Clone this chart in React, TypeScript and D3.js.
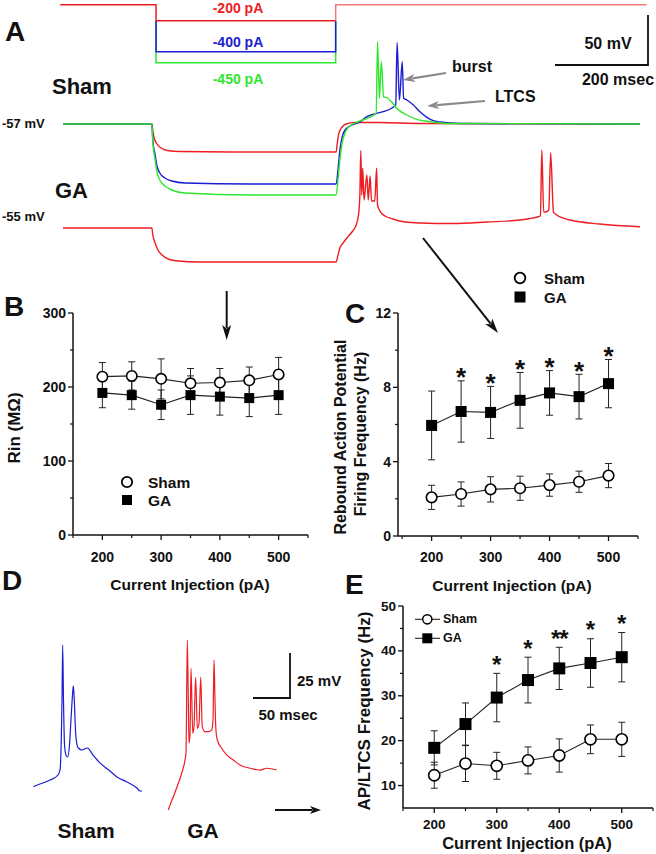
import React from "react";
import * as d3 from "d3";

const FONT = "Arial, 'Liberation Sans', Helvetica, sans-serif";
const RED = "#ee1d23";
const PINK = "#f07a7a";
const BLUE = "#1c1cd2";
const GREEN = "#2ee62e";

// ---------- Panel A: command steps (pA) ----------
const cmdLevels = [0, -200, -400, -450];
const cmdLabels = ["-200 pA", "-400 pA", "-450 pA"];
const cmdOnOff = [200, 586]; // ms

// ---------- Panel A: voltage traces [ms, mV] ----------
const shamRed: [number, number][] = [
  [0, -57], [191, -57], [193, -64], [196, -71], [202, -77], [211, -81], [224, -83.5], [251, -84.5],
  [402, -85], [587, -85], [589, -78], [593, -66], [600, -60], [608, -57], [628, -55.5], [681, -55.5],
  [767, -56.5], [1240, -57],
];
const shamBlue: [number, number][] = [
  [0, -57], [191, -57], [193, -73], [198, -88], [202, -99], [208, -106], [219, -111], [234, -114],
  [262, -116], [402, -117], [587, -117], [591, -103], [595, -83], [600, -70], [606, -63], [617, -59],
  [638, -55], [653, -49.7], [688, -44.7], [707, -41], [715, -38], [718, 24.3], [723, -33], [729, 5.3],
  [732, -31], [739, -33], [753, -38], [767, -44.7], [782, -50.3], [796, -53.7], [810, -55], [853, -56.5],
  [1240, -57],
];
const shamGreen: [number, number][] = [
  [0, -57], [191, -57], [193, -75], [198, -93], [202, -105], [208, -113], [219, -119], [234, -123],
  [262, -126], [402, -128], [587, -128], [591, -113], [595, -93], [600, -76], [606, -66], [612, -61],
  [628, -56], [653, -51.3], [673, -46.3], [676, 25.3], [680, -31.3], [684, 5.3], [689, -29.7], [697, -31],
  [706, -34.7], [717, -41.3], [739, -48], [760, -52.3], [789, -54.7], [832, -56.5], [1240, -57],
];
const gaRed: [number, number][] = [
  [0, -55], [191, -55], [193, -62], [198, -70], [204, -77], [213, -82], [226, -86], [247, -88],
  [294, -89], [587, -89], [591, -82], [595, -75], [602, -70], [610, -65], [621, -59], [630, -52],
  [635, -42], [638, -22], [640, 22.3], [642, -22], [644, 4.7], [647, -27], [653, -2], [656, -27],
  [660, -3], [663, -28], [670, -28], [674, 4.7], [676, -32], [682, -38.7], [692, -43], [709, -46],
  [735, -49], [767, -50], [838, -50.5], [911, -49], [982, -47], [1004, -45.5], [1019, -44], [1026, -43],
  [1029, 23], [1033, -39], [1039, -38.7], [1044, -37], [1048, 20.3], [1054, -39], [1061, -42],
  [1090, -47], [1154, -51], [1240, -53.7],
];

// ---------- Panel D: expanded bursts [ms, mV] ----------
const burstSham: [number, number][] = [
  [0, -57], [9, -55.5], [22.6, -53.3], [33.4, -50.5], [36.1, -47.7], [37.8, -31], [38.8, -8.8],
  [39.7, 21.7], [40.8, -8.8], [42.2, -33.8], [44.2, -39.4], [46.5, -40.5], [48.9, -33.8], [50.9, -19.9],
  [53, -6], [54.1, -1], [55.4, -8.8], [57, -25.5], [59.1, -33.8], [60.8, -35.5], [65.8, -36.6],
  [73, -35.5], [80.7, -39.4], [90.1, -43.8], [103.6, -48.3], [113.1, -51.6], [126.6, -54.4],
  [140.1, -57.7], [144.2, -59.4], [146.9, -59.4],
];
const burstGA: [number, number][] = [
  [0, -70], [3.2, -66.3], [6.8, -62.6], [12.7, -56.1], [18.1, -49.6], [22.6, -42.2], [23.9, -38.3],
  [25.7, 24.4], [27, -8.9], [28, -32.8], [29.3, -28.3], [30.7, 8.7], [33, -27.4], [34.7, -23.7],
  [37, 3.7], [39.2, -24.6], [41.5, -21.8], [43.8, 3.7], [45.9, -23.7], [49.6, -26.5], [54.1, -26.5],
  [58.6, -25.6], [60.4, -20], [61.8, 13.3], [63.1, -8.9], [64.1, -23.7], [66.2, -31.1], [72.2, -35.7],
  [78.9, -39.4], [87.8, -42.2], [96.9, -45], [110.4, -46.8], [123.9, -47.8], [133, -46.8], [146.5, -47.8],
];

// ---------- Panels B, C, E ----------
const currents = [200, 250, 300, 350, 400, 450, 500];

const rinSham = [214, 215, 211, 205, 206, 209, 217];
const rinShamErr = [19, 19, 27, 20, 19, 18, 23];
const rinGA = [192, 189, 176, 189, 187, 185, 189];
const rinGAErr = [20, 19, 20, 26, 25, 25, 26];

const reboundSham = [2.08, 2.26, 2.51, 2.57, 2.74, 2.92, 3.25];
const reboundShamErr = [0.65, 0.65, 0.68, 0.65, 0.6, 0.57, 0.65];
const reboundGA = [5.95, 6.7, 6.65, 7.3, 7.7, 7.5, 8.2];
const reboundGAErr = [1.85, 1.65, 1.4, 1.5, 1.2, 1.2, 1.3];
const reboundStars = ["", "*", "*", "*", "*", "*", "*"];

const ltcsSham = [12.3, 14.9, 14.4, 15.6, 16.7, 20.3, 20.3];
const ltcsShamErr = [2.9, 4.0, 3.0, 3.0, 3.7, 3.2, 3.8];
const ltcsGA = [18.4, 23.7, 29.6, 33.5, 36.1, 37.3, 38.6];
const ltcsGAErr = [3.8, 4.7, 5.4, 5.1, 4.7, 5.4, 5.5];
const ltcsStars = ["", "", "*", "*", "**", "*", "*"];

const xMajor = [200, 300, 400, 500];
const xMinor = [150, 250, 350, 450, 550];

type Scale = d3.ScaleLinear<number, number>;

function Arrow({ x1, y1, x2, y2, color, w = 2, hl = 13, hw = 8 }: any) {
  const a = Math.atan2(y2 - y1, x2 - x1);
  const c = Math.cos(a), s = Math.sin(a);
  const bx = x2 - c * hl, by = y2 - s * hl;
  const pts = [
    [x2, y2],
    [bx - s * hw / 2, by + c * hw / 2],
    [x2 - c * hl * 0.75, y2 - s * hl * 0.75],
    [bx + s * hw / 2, by - c * hw / 2],
  ];
  return (
    <g>
      <line x1={x1} y1={y1} x2={x2 - c * hl * 0.8} y2={y2 - s * hl * 0.8} stroke={color} strokeWidth={w} />
      <polygon points={pts.map((p) => p.join(",")).join(" ")} fill={color} />
    </g>
  );
}

function Txt({ x, y, children, size, fill = "#111", anchor = "start", weight = "bold", rotate }: any) {
  return (
    <text
      x={x}
      y={y}
      fontFamily={FONT}
      fontSize={size}
      fontWeight={weight}
      fill={fill}
      textAnchor={anchor}
      dominantBaseline="central"
      transform={rotate ? `rotate(${rotate},${x},${y})` : undefined}
    >
      {children}
    </text>
  );
}

function XYPlot(p: {
  xs: Scale; ys: Scale; yMajor: number[]; yMinor: number[];
  sham: number[]; shamErr: number[]; ga: number[]; gaErr: number[];
  stars?: string[]; starGap?: number; starSize?: number; r: number; sq: number; tickSize: number; xLabY: number;
}) {
  const { xs, ys } = p;
  const [x0, x1] = xs.range();
  const [yb, yt] = ys.range();
  const ax0 = x0;
  const line = d3.line<number>().x((_, i) => xs(currents[i])).y((d) => ys(d));
  const err = (vals: number[], errs: number[]) =>
    vals.map((v, i) => {
      const cx = xs(currents[i]);
      const t = ys(v + errs[i]), b = ys(v - errs[i]);
      return (
        <g key={i} stroke="#222" strokeWidth={1}>
          <line x1={cx} x2={cx} y1={t} y2={b} />
          <line x1={cx - 3.5} x2={cx + 3.5} y1={t} y2={t} />
          <line x1={cx - 3.5} x2={cx + 3.5} y1={b} y2={b} />
        </g>
      );
    });
  const ss = p.starSize || 24;
  return (
    <g>
      {/* axes */}
      <line x1={ax0} x2={ax0} y1={yb} y2={yt} stroke="#111" strokeWidth={1.5} />
      <line x1={ax0} x2={x1} y1={yb} y2={yb} stroke="#111" strokeWidth={1.5} />
      {p.yMajor.map((v) => (
        <g key={"ym" + v}>
          <line x1={ax0 - 5} x2={ax0} y1={ys(v)} y2={ys(v)} stroke="#111" strokeWidth={1.3} />
          <Txt x={ax0 - 7} y={ys(v)} size={p.tickSize} anchor="end">{v}</Txt>
        </g>
      ))}
      {p.yMinor.map((v) => (
        <line key={"yn" + v} x1={ax0 - 3} x2={ax0} y1={ys(v)} y2={ys(v)} stroke="#111" strokeWidth={1.2} />
      ))}
      {xMajor.map((v) => (
        <g key={"xm" + v}>
          <line x1={xs(v)} x2={xs(v)} y1={yb} y2={yb + 5} stroke="#111" strokeWidth={1.3} />
          <Txt x={xs(v)} y={p.xLabY} size={p.tickSize} anchor="middle">{v}</Txt>
        </g>
      ))}
      {xMinor.map((v) => (
        <line key={"xn" + v} x1={xs(v)} x2={xs(v)} y1={yb} y2={yb + 3} stroke="#111" strokeWidth={1.2} />
      ))}
      {/* series lines */}
      <path d={line(p.ga) || ""} fill="none" stroke="#222" strokeWidth={1.1} />
      <path d={line(p.sham) || ""} fill="none" stroke="#222" strokeWidth={1.1} />
      {err(p.ga, p.gaErr)}
      {err(p.sham, p.shamErr)}
      {p.ga.map((v, i) => (
        <rect key={"g" + i} x={xs(currents[i]) - p.sq / 2} y={ys(v) - p.sq / 2} width={p.sq} height={p.sq} fill="#000" />
      ))}
      {p.sham.map((v, i) => (
        <circle key={"s" + i} cx={xs(currents[i])} cy={ys(v)} r={p.r} fill="#fff" stroke="#000" strokeWidth={1.6} />
      ))}
      {p.stars &&
        p.stars.map((s, i) =>
          s ? (
            <text key={"st" + i} x={xs(currents[i])} y={ys(p.ga[i] + p.gaErr[i]) - (p.starGap || 0) + 0.58 * ss}
              fontFamily={FONT} fontSize={ss} fontWeight="bold" textAnchor="middle" fill="#111"
              letterSpacing={s.length > 1 ? -1 : 0}>{s}</text>
          ) : null
        )}
    </g>
  );
}

export default function App() {
  // Panel A scales
  const xA = d3.scaleLinear().domain([0, 1240]).range([63, 640]);
  const yS = d3.scaleLinear().domain([-57, -7]).range([124, 74]);
  const yG = d3.scaleLinear().domain([-55, -5]).range([228, 178]);
  const yCmd = d3.scaleLinear().domain([-450, -400, -200, 0]).range([62.7, 51.7, 20.7, 4.7]);
  const trace = (ys: Scale) =>
    d3.line<[number, number]>().x((d) => xA(d[0])).y((d) => ys(d[1])).curve(d3.curveMonotoneX);

  const [tOn, tOff] = cmdOnOff;
  const box = (lvl: number) =>
    `M${xA(tOn)},${yCmd(cmdLevels[1])}V${yCmd(lvl)}H${xA(tOff)}V${yCmd(cmdLevels[1])}`;

  // Panel D scales
  const xDS = d3.scaleLinear().domain([0, 150]).range([33.3, 33.3 + 150 * 0.74]);
  const xDG = d3.scaleLinear().domain([0, 150]).range([168.3, 168.3 + 150 * 0.74]);
  const yDS = d3.scaleLinear().domain([-57, 0]).range([786.7, 786.7 - 57 * 1.8]);
  const yDG = d3.scaleLinear().domain([-70, 0]).range([810, 810 - 70 * 1.8]);
  const dLine = (xs: Scale, ys: Scale) =>
    d3.line<[number, number]>().x((d) => xs(d[0])).y((d) => ys(d[1])).curve(d3.curveMonotoneX);

  // B, C, E scales
  const xB = d3.scaleLinear().domain([150, 550]).range([73, 308]);
  const yB = d3.scaleLinear().domain([0, 300]).range([535, 313]);
  const xC = d3.scaleLinear().domain([143, 550]).range([398, 638]);
  const yC = d3.scaleLinear().domain([0, 12]).range([536, 313]);
  const xE = d3.scaleLinear().domain([150, 550]).range([403, 653]);
  const yE = d3.scaleLinear().domain([5, 50]).range([808, 606]);

  const sb50 = yS(-57) - yS(-7);
  const sb200 = xA(200) - xA(0);
  const sbD25 = yDS(-57) - yDS(-32);
  const sbD50 = xDS(50) - xDS(0);

  return (
    <svg width={656} height={854} style={{ position: "absolute", left: 0, top: 0, background: "#fff" }}>
      <rect width={656} height={854} fill="#fff" />

      {/* ===== Panel A ===== */}
      <Txt x={5} y={31} size={28}>A</Txt>
      {/* command steps */}
      <path d={box(cmdLevels[3])} fill="none" stroke={GREEN} strokeWidth={1.5} />
      <path d={box(cmdLevels[2])} fill="none" stroke={BLUE} strokeWidth={1.5} />
      <path
        d={`M${xA(-6)},${yCmd(0)}H${xA(tOn)}V${yCmd(-200)}H${xA(tOff)}`}
        fill="none" stroke={RED} strokeWidth={1.5}
      />
      <path d={`M${xA(tOff)},${yCmd(-200)}V${yCmd(0)}H${xA(1254)}`} fill="none" stroke={PINK} strokeWidth={1.5} />
      <Txt x={238} y={8} size={14} fill={RED} anchor="middle">{cmdLabels[0]}</Txt>
      <Txt x={238} y={42} size={14} fill={BLUE} anchor="middle">{cmdLabels[1]}</Txt>
      <Txt x={238} y={79} size={14} fill={GREEN} anchor="middle">{cmdLabels[2]}</Txt>

      {/* scale bar A */}
      <path d={`M${648 - sb200},65H648V${65 - sb50}`} fill="none" stroke="#111" strokeWidth={1.8} />
      <Txt x={608} y={43} size={16} anchor="middle">50 mV</Txt>
      <Txt x={618} y={79} size={16} anchor="middle">200 msec</Txt>

      <Txt x={52} y={86} size={22}>Sham</Txt>
      <Txt x={55} y={190} size={22}>GA</Txt>
      <Txt x={2} y={123} size={13}>-57 mV</Txt>
      <Txt x={2} y={216} size={13}>-55 mV</Txt>

      <path d={trace(yS)(shamRed) || ""} fill="none" stroke={RED} strokeWidth={1.4} />
      <path d={trace(yS)(shamBlue) || ""} fill="none" stroke={BLUE} strokeWidth={1.4} />
      <path d={trace(yS)(shamGreen) || ""} fill="none" stroke={GREEN} strokeWidth={1.4} />
      <path d={trace(yG)(gaRed) || ""} fill="none" stroke={RED} strokeWidth={1.4} />

      <Txt x={452} y={66} size={16}>burst</Txt>
      <Txt x={495} y={96} size={16}>LTCS</Txt>
      <Arrow x1={446} y1={73} x2={403} y2={80} color="#8a8a8a" w={2.2} hl={12} hw={8} />
      <Arrow x1={485} y1={101} x2={427} y2={106} color="#8a8a8a" w={2.2} hl={12} hw={8} />

      {/* arrows to panels */}
      <Arrow x1={226.7} y1={291} x2={226.7} y2={340} color="#111" w={2} hl={15} hw={9} />
      <Arrow x1={423} y1={238} x2={498} y2={333} color="#111" w={2} hl={15} hw={9} />

      {/* ===== Panel B ===== */}
      <Txt x={4} y={306} size={28}>B</Txt>
      <XYPlot xs={xB} ys={yB} yMajor={[0, 100, 200, 300]} yMinor={[50, 150, 250]}
        sham={rinSham} shamErr={rinShamErr} ga={rinGA} gaErr={rinGAErr}
        r={5.2} sq={10} tickSize={14} xLabY={557} />
      <Txt x={14} y={428} size={17} anchor="middle" rotate={-90}>Rin (MΩ)</Txt>
      <Txt x={190} y={584} size={15.5} anchor="middle">Current Injection (pA)</Txt>
      <circle cx={127} cy={482} r={5.2} fill="#fff" stroke="#000" strokeWidth={1.8} />
      <rect x={122} y={495} width={10} height={10} fill="#000" />
      <Txt x={148} y={482} size={15.5}>Sham</Txt>
      <Txt x={148} y={500} size={15.5}>GA</Txt>

      {/* ===== Panel C ===== */}
      <Txt x={345} y={313} size={28}>C</Txt>
      <XYPlot xs={xC} ys={yC} yMajor={[0, 4, 8, 12]} yMinor={[2, 6, 10]}
        sham={reboundSham} shamErr={reboundShamErr} ga={reboundGA} gaErr={reboundGAErr}
        stars={reboundStars} starGap={9.5} starSize={26}
        r={5.3} sq={11} tickSize={14} xLabY={557} />
      <Txt x={340} y={437} size={16} anchor="middle" rotate={-90}>Rebound Action Potential</Txt>
      <Txt x={360} y={434} size={16} anchor="middle" rotate={-90}>Firing Frequency (Hz)</Txt>
      <Txt x={512} y={585} size={15.5} anchor="middle">Current Injection (pA)</Txt>
      <circle cx={520} cy={278} r={5.3} fill="#fff" stroke="#000" strokeWidth={1.8} />
      <rect x={514.5} y={291.5} width={11} height={11} fill="#000" />
      <Txt x={544} y={278} size={15}>Sham</Txt>
      <Txt x={544} y={297} size={15}>GA</Txt>

      {/* ===== Panel D ===== */}
      <Txt x={2} y={580} size={28}>D</Txt>
      <path d={dLine(xDS, yDS)(burstSham) || ""} fill="none" stroke={BLUE} strokeWidth={1.2} />
      <path d={dLine(xDG, yDG)(burstGA) || ""} fill="none" stroke={RED} strokeWidth={1.2} />
      <path d={`M${290 - sbD50},698H290V${698 - sbD25}`} fill="none" stroke="#111" strokeWidth={1.8} />
      <Txt x={297} y={680} size={15}>25 mV</Txt>
      <Txt x={288} y={714} size={15} anchor="middle">50 msec</Txt>
      <Txt x={86} y={830} size={21} anchor="middle">Sham</Txt>
      <Txt x={203} y={830} size={21} anchor="middle">GA</Txt>
      <Arrow x1={275} y1={810} x2={321} y2={810} color="#111" w={2} hl={11} hw={8} />

      {/* ===== Panel E ===== */}
      <Txt x={345} y={584} size={28}>E</Txt>
      <XYPlot xs={xE} ys={yE} yMajor={[10, 20, 30, 40, 50]} yMinor={[15, 25, 35, 45]}
        sham={ltcsSham} shamErr={ltcsShamErr} ga={ltcsGA} gaErr={ltcsGAErr}
        stars={ltcsStars} starGap={14.5} starSize={24}
        r={5.6} sq={12} tickSize={13.5} xLabY={824} />
      <Txt x={364} y={711} size={17} anchor="middle" rotate={-90}>AP/LTCS Frequency (Hz)</Txt>
      <Txt x={527} y={843} size={16.5} anchor="middle">Current Injection (pA)</Txt>
      <line x1={415} x2={440} y1={619.3} y2={619.3} stroke="#222" strokeWidth={1.1} />
      <circle cx={427.3} cy={619.3} r={4.6} fill="#fff" stroke="#000" strokeWidth={1.5} />
      <line x1={415} x2={440} y1={638.3} y2={638.3} stroke="#222" strokeWidth={1.1} />
      <rect x={422.3} y={633.3} width={10} height={10} fill="#000" />
      <Txt x={443} y={619.3} size={12.5}>Sham</Txt>
      <Txt x={443} y={638.3} size={12.5}>GA</Txt>
    </svg>
  );
}
